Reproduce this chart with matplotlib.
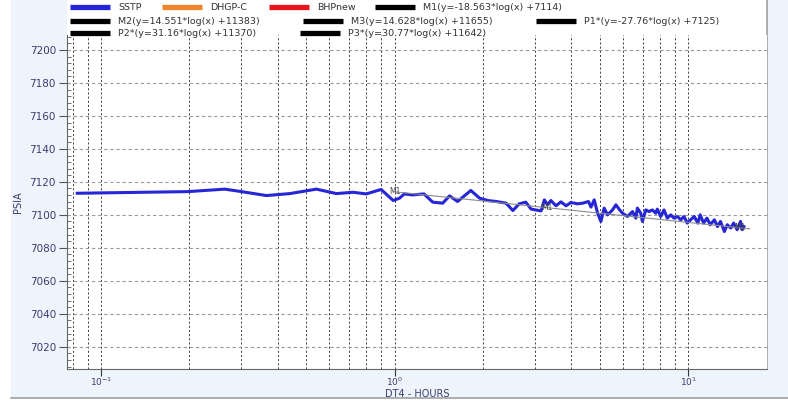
import numpy as np
import matplotlib
matplotlib.use("Agg")
import matplotlib.pyplot as plt
from matplotlib.lines import Line2D
from matplotlib.patches import Rectangle
from matplotlib.ticker import MultipleLocator, LogLocator, NullFormatter

# SSTP pressure vs elapsed time
hours = [0.083, 0.198, 0.264, 0.301, 0.366, 0.44, 0.542, 0.634, 0.722, 0.801,
         0.9, 0.99, 1.04, 1.08, 1.15, 1.26, 1.35, 1.46, 1.54, 1.64,
         1.82, 1.95, 2.08, 2.22, 2.40, 2.53, 2.66, 2.80, 2.92, 3.16,
         3.24, 3.32, 3.41, 3.55, 3.69, 3.84, 3.99, 4.2, 4.38, 4.58,
         4.67, 4.79, 4.92, 5.05, 5.18, 5.32, 5.53, 5.68, 5.82, 5.98,
         6.22, 6.47, 6.64, 6.72, 6.90, 6.99, 7.18, 7.37, 7.56, 7.76,
         7.86, 8.07, 8.28, 8.50, 8.73, 8.96, 9.20, 9.44, 9.69, 9.94,
         10.2, 10.5, 10.8, 11.0, 11.3, 11.6, 11.9, 12.3, 12.6, 12.9,
         13.3, 13.6, 14.0, 14.3, 14.7, 15.1, 15.3, 15.5]
psia = [7113.1, 7114.1, 7115.6, 7114.1, 7111.7, 7112.9, 7115.6, 7112.9, 7113.7, 7112.7,
        7115.4, 7108.7, 7110.1, 7112.7, 7112.1, 7112.7, 7107.7, 7107.1, 7111.5, 7108.1,
        7114.8, 7110.1, 7108.7, 7108.1, 7107.1, 7102.6, 7106.7, 7107.7, 7103.5, 7102.4,
        7109.1, 7106.1, 7108.7, 7105.5, 7107.9, 7105.5, 7107.5, 7106.7, 7107.1, 7108.1,
        7104.7, 7109.1, 7101.0, 7096.0, 7104.1, 7100.0, 7103.0, 7106.1, 7103.5, 7101.0,
        7099.0, 7102.0, 7098.0, 7104.1, 7101.0, 7096.0, 7103.0, 7102.0, 7103.0, 7101.0,
        7103.5, 7099.0, 7103.0, 7098.0, 7100.0, 7098.0, 7099.0, 7097.0, 7099.0, 7095.0,
        7097.0, 7099.0, 7095.0, 7100.0, 7095.0, 7098.0, 7094.0, 7097.0, 7092.9, 7096.0,
        7089.9, 7094.0, 7092.0, 7095.0, 7091.0, 7096.0, 7091.0, 7092.9]

# M1 semilog fit
m1_slope, m1_icpt = -18.563, 7114
m1_x = [1.0, 16.2]
m1_marks = [1.0, 3.3, 15.0]

legend_rows = [
    [("SSTP", "#2424d8"), ("DHGP-C", "#f0862a"), ("BHPnew", "#e8161c"),
     ("M1(y=-18.563*log(x) +7114)", "black")],
    [("M2(y=14.551*log(x) +11383)", "black"), ("M3(y=14.628*log(x) +11655)", "black"),
     ("P1*(y=-27.76*log(x) +7125)", "black")],
    [("P2*(y=31.16*log(x) +11370)", "black"), ("P3*(y=30.77*log(x) +11642)", "black")],
]
# x positions (px) of each legend handle
legend_x = [[70, 162, 269, 375], [70, 303, 536], [70, 300]]
legend_y = [7, 21, 33]

W, H = 788, 401
fig = plt.figure(figsize=(W / 100, H / 100), dpi=100, facecolor="white")

def fx(px):
    return px / W

def fy(py):
    return 1 - py / H

# backgrounds
fig.add_artist(Rectangle((fx(11), fy(398)), fx(788 - 11), 398 / H,
                         transform=fig.transFigure, facecolor="#edf4fc",
                         edgecolor="none", zorder=-3))
fig.add_artist(Line2D([fx(11), 1], [fy(398), fy(398)], transform=fig.transFigure,
                      color="#a0a0a0", lw=1.2, zorder=-2))
fig.add_artist(Rectangle((fx(67), fy(369)), fx(700), 369 / H,
                         transform=fig.transFigure, facecolor="white",
                         edgecolor="none", zorder=-2))
fig.add_artist(Line2D([fx(767), fx(767)], [fy(369), 1], transform=fig.transFigure,
                      color="#a0a0a0", lw=1.2, zorder=-1))

ax = fig.add_axes([fx(67), fy(369), fx(700), (369 - 35) / H])
ax.set_facecolor("white")
ax.set_xscale("log")
ax.set_xlim(0.0766, 18.58)
ax.set_ylim(7006.5, 7209.1)

ax.plot(hours, psia, color="#2626d6", lw=2.2, zorder=3)

fit_x = np.array(m1_x)
ax.plot(fit_x, m1_slope * np.log10(fit_x) + m1_icpt, color="#8c8c8c", lw=0.8, zorder=4)
for xm in m1_marks:
    ax.text(xm, m1_slope * np.log10(xm) + m1_icpt, "M1", fontsize=5.5, color="#444444",
            ha="center", va="center", zorder=5)

ax.yaxis.set_major_locator(MultipleLocator(20))
ax.yaxis.set_minor_locator(MultipleLocator(4))
ax.xaxis.set_major_locator(LogLocator(base=10))
ax.xaxis.set_minor_locator(LogLocator(base=10, subs=np.arange(2, 10)))
ax.xaxis.set_minor_formatter(NullFormatter())

ax.grid(axis="y", which="major", color="#9a9a9a", ls=(0, (3, 2.5)), lw=0.8)
ax.grid(axis="x", which="both", color="#222222", ls=(0, (2.5, 2.5)), lw=0.6)

ax.tick_params(axis="y", which="major", direction="out", length=6, width=0.8, pad=2,
               colors="#555555", labelcolor="#3c3c6e", labelsize=7.5)
ax.tick_params(axis="y", which="minor", direction="in", length=3, width=0.6, colors="#555555")
ax.tick_params(axis="x", which="major", direction="out", length=5, width=0.8, pad=0,
               colors="#333333", labelcolor="#3c3c6e", labelsize=6.5)
ax.tick_params(axis="x", which="minor", length=0)

for side in ("top", "right"):
    ax.spines[side].set_visible(False)
for side in ("left", "bottom"):
    ax.spines[side].set_color("#666666")

ax.set_xlabel("DT4 - HOURS", fontsize=7, color="#3c3c6e", va="center")
ax.xaxis.set_label_coords(0.5, -25 / 334)
ax.set_ylabel("PSIA", fontsize=7, color="#3c3c6e", labelpad=5)

# legend drawn as a flow of entries
for row, xs, yy in zip(legend_rows, legend_x, legend_y):
    for (label, col), x0 in zip(row, xs):
        fig.add_artist(Line2D([fx(x0), fx(x0 + 40)], [fy(yy), fy(yy)],
                              transform=fig.transFigure, color=col, lw=3.8,
                              solid_capstyle="butt"))
        fig.text(fx(x0 + 48), fy(yy), label, fontsize=6.8, color="#333333",
                 ha="left", va="center")

fig.savefig("out.png", dpi=100, facecolor=fig.get_facecolor())
